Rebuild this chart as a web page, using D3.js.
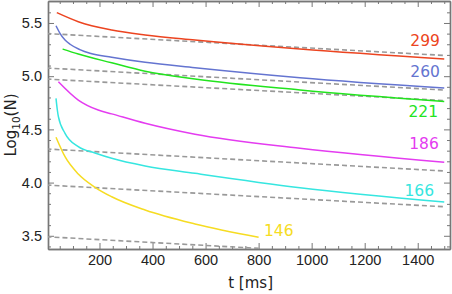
<!DOCTYPE html>
<html>
<head>
<meta charset="utf-8">
<script src="https://cdn.jsdelivr.net/npm/d3@7"></script>
<style>
  body { margin: 0; background: #fff; }
  svg { display: block; font-family: "DejaVu Sans", sans-serif; }
  .frame .domain { stroke: #777; stroke-width: 1.4; }
  .frame line { stroke: #777; }
  .frame text { fill: #222; font-size: 14.5px; }
</style>
</head>
<body>
<svg id="chart" width="452" height="294"></svg>
<script>
// ---------------
// data (t in ms)
// ---------------
var seriesNames = ['299', '260', '221', '186', '166', '146'];
var seriesColors = ['#ec4420', '#6474d0', '#22e41e', '#e43cf0', '#36e6e0', '#f6dc22'];

var t299 = [39, 120, 246, 372, 560, 956, 1500];
var v299 = [5.597, 5.512, 5.434, 5.387, 5.340, 5.255, 5.162];

var t260 = [36, 51, 70, 89, 126, 164, 246, 372, 560, 956, 1500];
var v260 = [5.474, 5.403, 5.340, 5.300, 5.250, 5.215, 5.178, 5.130, 5.080, 4.986, 4.889];

var t221 = [61, 120, 246, 372, 560, 956, 1500];
var v221 = [5.255, 5.208, 5.126, 5.047, 4.973, 4.870, 4.762];

var t186 = [45, 120, 195, 246, 372, 560, 956, 1500];
var v186 = [4.948, 4.776, 4.682, 4.646, 4.557, 4.454, 4.322, 4.191];

var t166 = [36, 41, 45, 70, 120, 183, 246, 372, 560, 956, 1500];
var v166 = [4.792, 4.682, 4.619, 4.463, 4.337, 4.278, 4.228, 4.156, 4.087, 3.952, 3.817];

var t146 = [36, 70, 120, 183, 246, 372, 560, 800];
var v146 = [4.426, 4.243, 4.081, 3.956, 3.867, 3.742, 3.611, 3.486];

var seriesT = [t299, t260, t221, t186, t166, t146];
var seriesV = [v299, v260, v221, v186, v166, v146];

// dashed reference lines: value at t = 0 and at the end time
var refStart = [5.401, 5.077, 4.973, 4.316, 3.977, 3.491];
var refEnd = [5.195, 4.870, 4.771, 4.109, 3.773, 3.382];
var refEndT = [1500, 1500, 1500, 1500, 1500, 800];

var xTicks = [200, 400, 600, 800, 1000, 1200, 1400];
var yTicks = [3.5, 4.0, 4.5, 5.0, 5.5];

// label anchor points (t, value) for the series names
var labelT = [1372, 1372, 1365, 1368, 1350, 820];
var labelV = [5.286, 4.988, 4.612, 4.316, 3.877, 3.497];

// ----------
// plot area
// ----------
var margin = { top: 1, right: 2, bottom: 45, left: 48 };
var width = 452, height = 294;

var svg = d3.select('#chart');

var x = d3.scaleLinear()
  .domain([5.8, 1521.7])
  .range([margin.left, width - margin.right]);

var y = d3.scaleLinear()
  .domain([3.3758, 5.7066])
  .range([height - margin.bottom, margin.top]);

var xMinor = d3.range(50, 1501, 50).filter(function (d) { return d % 200 !== 0; });
var yMinor = d3.range(34, 57, 1).map(function (d) { return d / 10; })
  .filter(function (d) { return Math.round(d * 10) % 5 !== 0; });

// frame axes, ticks pointing inwards
var drawAxis = function (axisFn, scale, values, size, transform, labels) {
  var a = axisFn(scale).tickValues(values).tickSizeInner(-size).tickSizeOuter(0);
  if (labels) {
    a.tickPadding(6).tickFormat(labels);
  } else {
    a.tickFormat('');
  }
  return svg.append('g').attr('class', 'frame').attr('transform', transform).call(a);
};

var bottomY = 'translate(0,' + (height - margin.bottom) + ')';
var topY = 'translate(0,' + margin.top + ')';
var leftX = 'translate(' + margin.left + ',0)';
var rightX = 'translate(' + (width - margin.right) + ',0)';

// minor ticks first, then major axes over them
drawAxis(d3.axisBottom, x, xMinor, 3, bottomY);
drawAxis(d3.axisTop, x, xMinor, 3, topY);
drawAxis(d3.axisLeft, y, yMinor, 3, leftX);
drawAxis(d3.axisRight, y, yMinor, 3, rightX);

drawAxis(d3.axisBottom, x, xTicks, 6, bottomY, d3.format('d'));
drawAxis(d3.axisTop, x, xTicks, 6, topY);
drawAxis(d3.axisLeft, y, yTicks, 6, leftX, d3.format('.1f'));
drawAxis(d3.axisRight, y, yTicks, 6, rightX);

// -----------------
// reference lines
// -----------------
svg.append('defs').append('clipPath').attr('id', 'clip')
  .append('rect')
  .attr('x', margin.left)
  .attr('y', margin.top)
  .attr('width', width - margin.left - margin.right)
  .attr('height', height - margin.top - margin.bottom);

var plot = svg.append('g').attr('clip-path', 'url(#clip)');

plot.selectAll('line.ref')
  .data(refStart)
  .enter().append('line')
  .attr('class', 'ref')
  .attr('x1', x(0))
  .attr('y1', function (d) { return y(d); })
  .attr('x2', function (d, i) { return x(refEndT[i]); })
  .attr('y2', function (d, i) { return y(refEnd[i]); })
  .attr('stroke', '#999')
  .attr('stroke-width', 1.6)
  .attr('stroke-dasharray', '5,3');

// -------
// curves
// -------
var line = d3.line()
  .x(function (d) { return x(d[0]); })
  .y(function (d) { return y(d[1]); })
  .curve(d3.curveMonotoneX);

plot.selectAll('path.series')
  .data(seriesNames)
  .enter().append('path')
  .attr('class', 'series')
  .attr('fill', 'none')
  .attr('stroke', function (d, i) { return seriesColors[i]; })
  .attr('stroke-width', 1.5)
  .attr('d', function (d, i) {
    return line(d3.zip(seriesT[i], seriesV[i]));
  });

// series names
svg.selectAll('text.name')
  .data(seriesNames)
  .enter().append('text')
  .attr('class', 'name')
  .attr('x', function (d, i) { return x(labelT[i]); })
  .attr('y', function (d, i) { return y(labelV[i]); })
  .attr('font-size', '15.5px')
  .attr('fill', function (d, i) { return seriesColors[i]; })
  .text(function (d) { return d; });

// axis titles
svg.append('text')
  .attr('x', x(800) - 8)
  .attr('y', 288)
  .attr('text-anchor', 'middle')
  .attr('font-size', '15px')
  .attr('fill', '#222')
  .text('t [ms]');

var ylab = svg.append('text')
  .attr('transform', 'translate(15.5,125) rotate(-90)')
  .attr('text-anchor', 'middle')
  .attr('font-size', '15px')
  .attr('fill', '#222');
ylab.append('tspan').text('Log');
ylab.append('tspan').attr('font-size', '10.5px').attr('dy', 4).text('10');
ylab.append('tspan').attr('dy', -4).text('(N)');
</script>
</body>
</html>
